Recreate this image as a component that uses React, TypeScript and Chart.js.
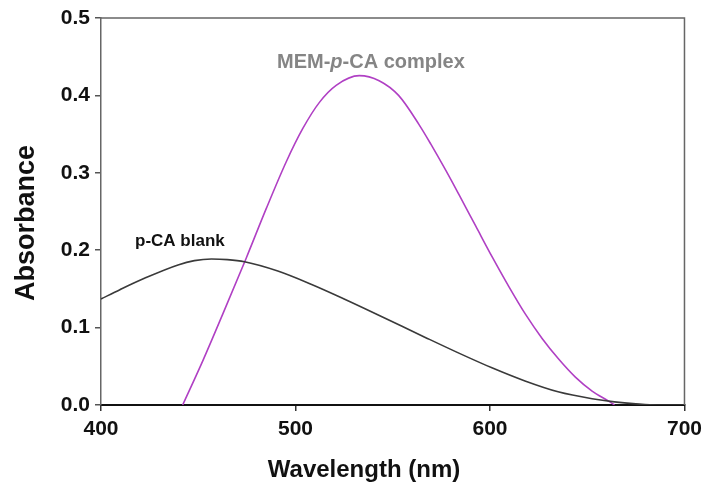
import React, { useEffect, useRef } from "react";
import { Chart, registerables } from "chart.js";

Chart.register(...registerables);

const blankWavelengths = [400, 409.7, 422.6, 439.6, 448, 456.8, 465, 473.8, 490.9, 508, 525, 542, 567, 584, 601, 618, 635, 652.5, 664, 675, 686, 700];
const blankAbsorbance = [0.137, 0.149, 0.164, 0.181, 0.1865, 0.1886, 0.1878, 0.185, 0.173, 0.156, 0.137, 0.117, 0.087, 0.067, 0.048, 0.031, 0.017, 0.008, 0.004, 0.0015, 0, 0];

const complexWavelengths = [442, 452.5, 462.7, 474.7, 485, 495.2, 503.7, 512.3, 520.9, 532.8, 543, 553, 563.6, 569.6, 577.3, 584, 592.7, 601.2, 609.7, 618.3, 626.8, 635.4, 643.9, 652.5, 661, 664];
const complexAbsorbance = [0, 0.058, 0.118, 0.19, 0.254, 0.314, 0.357, 0.391, 0.413, 0.4255, 0.419, 0.4, 0.362, 0.337, 0.303, 0.272, 0.231, 0.191, 0.153, 0.117, 0.086, 0.059, 0.036, 0.018, 0.005, 0];

const xMin = 400, xMax = 700, xStep = 100;
const yMin = 0, yMax = 0.5, yStep = 0.1;

const xTitle = "Wavelength (nm)";
const yTitle = "Absorbance";
const complexLabel = ["MEM-", "p", "-CA complex"];
const blankLabel = "p-CA blank";

const FONT = "'Liberation Sans', Arial, Helvetica, sans-serif";

const decorPlugin = {
  id: "decor",
  afterDraw(chart: any) {
    const ctx = chart.ctx;
    const a = chart.chartArea;
    ctx.save();
    ctx.strokeStyle = "#666";
    ctx.lineWidth = 1.5;
    ctx.beginPath();
    ctx.moveTo(a.left, a.top);
    ctx.lineTo(a.right, a.top);
    ctx.lineTo(a.right, a.bottom);
    ctx.stroke();

    ctx.fillStyle = "#111";
    ctx.font = `bold 24px ${FONT}`;
    ctx.textAlign = "center";
    ctx.textBaseline = "middle";
    ctx.fillText(xTitle, 364, 470);

    ctx.save();
    ctx.translate(27, 223);
    ctx.rotate(-Math.PI / 2);
    ctx.font = `bold 27px ${FONT}`;
    ctx.fillText(yTitle, 0, 0);
    ctx.restore();

    ctx.textAlign = "left";
    ctx.textBaseline = "alphabetic";
    let x = 277;
    const y = 68;
    ctx.fillStyle = "#858585";
    ctx.font = `bold 20px ${FONT}`;
    ctx.fillText(complexLabel[0], x, y);
    x += ctx.measureText(complexLabel[0]).width;
    ctx.font = `italic bold 20px ${FONT}`;
    ctx.fillText(complexLabel[1], x, y);
    x += ctx.measureText(complexLabel[1]).width;
    ctx.font = `bold 20px ${FONT}`;
    ctx.fillText(complexLabel[2], x, y);

    ctx.fillStyle = "#111";
    ctx.font = `bold 17px ${FONT}`;
    ctx.fillText(blankLabel, 135, 246);
    ctx.restore();
  },
};

export default function App() {
  const ref = useRef<HTMLCanvasElement | null>(null);
  useEffect(() => {
    if (!ref.current) return;
    const chart = new Chart(ref.current, {
      type: "line",
      data: {
        datasets: [
          {
            label: "p-CA blank",
            data: blankWavelengths.map((w, i) => ({ x: w, y: blankAbsorbance[i] })),
            borderColor: "#3a3a3a",
            borderWidth: 1.6,
            pointRadius: 0,
            cubicInterpolationMode: "monotone",
            fill: false,
          },
          {
            label: "MEM-p-CA complex",
            data: complexWavelengths.map((w, i) => ({ x: w, y: complexAbsorbance[i] })),
            borderColor: "#b040c4",
            borderWidth: 1.6,
            pointRadius: 0,
            cubicInterpolationMode: "monotone",
            fill: false,
          },
        ],
      },
      options: {
        animation: false,
        responsive: false,
        devicePixelRatio: 1,
        layout: { padding: { left: 0, top: 18, right: 22, bottom: 0 } },
        plugins: { legend: { display: false }, tooltip: { enabled: false } },
        scales: {
          x: {
            type: "linear",
            min: xMin,
            max: xMax,
            afterFit: (s: any) => { s.height = 86; },
            ticks: {
              stepSize: xStep,
              color: "#111",
              font: { family: FONT, size: 21, weight: "bold" },
              padding: 6,
              maxRotation: 0,
            },
            grid: { drawOnChartArea: false, tickLength: 6, color: "#333", lineWidth: 1.5 },
            border: { color: "#111", width: 2 },
          },
          y: {
            type: "linear",
            min: yMin,
            max: yMax,
            afterFit: (s: any) => { s.width = 101; },
            ticks: {
              stepSize: yStep,
              color: "#111",
              font: { family: FONT, size: 21, weight: "bold" },
              padding: 5,
              callback: (v: any) => Number(v).toFixed(1),
            },
            grid: { drawOnChartArea: false, tickLength: 6, color: "#555", lineWidth: 1.5 },
            border: { color: "#666", width: 1.5 },
          },
        },
      },
      plugins: [decorPlugin],
    } as any);
    return () => chart.destroy();
  }, []);
  return (
    <div style={{ position: "fixed", left: 0, top: 0, width: 708, height: 491, background: "#fff" }}>
      <canvas ref={ref} width={708} height={491} style={{ width: 708, height: 491 }} />
    </div>
  );
}
